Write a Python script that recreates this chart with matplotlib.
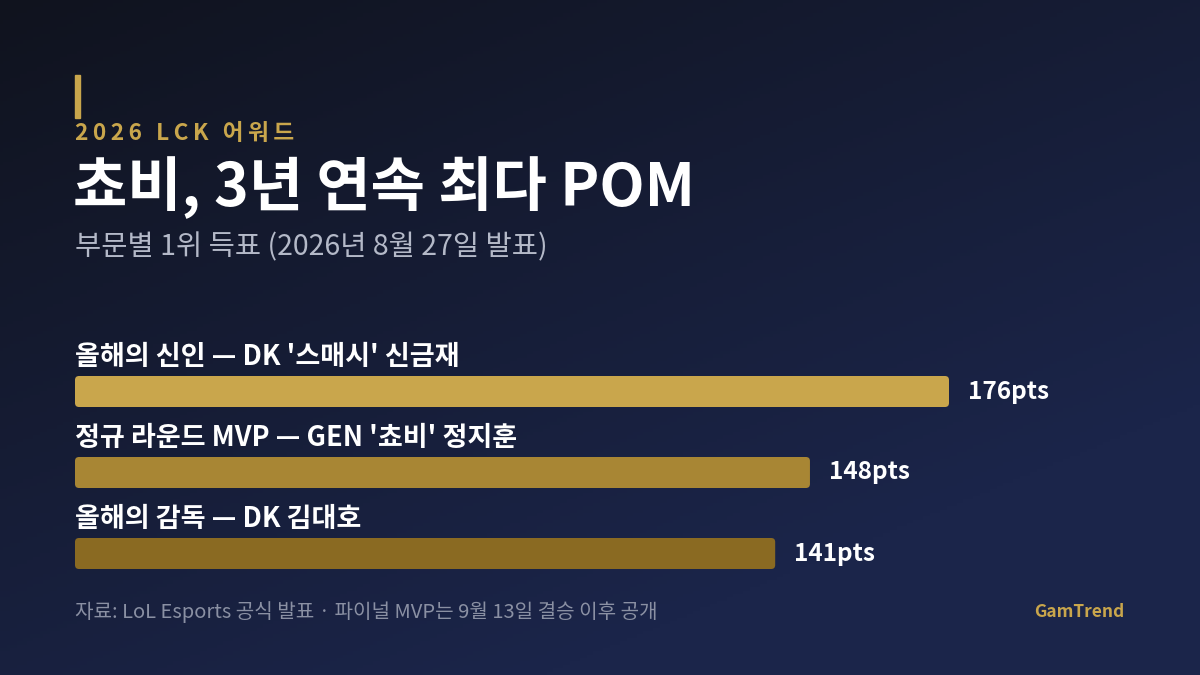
import matplotlib.pyplot as plt
import numpy as np
from matplotlib.patches import FancyBboxPatch, Rectangle

plt.rcParams['font.family'] = ['Noto Sans CJK KR', 'DejaVu Sans']

# data
categories = ["올해의 신인 — DK '스매시' 신금재",
              "정규 라운드 MVP — GEN '쵸비' 정지훈",
              "올해의 감독 — DK 김대호"]
points = [176, 148, 141]
bar_colors = ['#c9a64c', '#a88634', '#8a6a22']

kicker = '2026 LCK 어워드'
title = '쵸비, 3년 연속 최다 POM'
subtitle = '부문별 1위 득표 (2026년 8월 27일 발표)'
footer = '자료: LoL Esports 공식 발표 · 파이널 MVP는 9월 13일 결승 이후 공개'
brand = 'GamTrend'

W, H = 1200, 675
fig = plt.figure(figsize=(W / 100, H / 100), dpi=100)

# background gradient
bg = fig.add_axes([0, 0, 1, 1])
bg.set_axis_off()
yy, xx = np.mgrid[0:1:200j, 0:1:360j]
t = np.clip(0.55 * xx + 0.75 * yy, 0, 1)[..., None]
c0 = np.array([16, 19, 30]) / 255
c1 = np.array([27, 37, 74]) / 255
img = c0 * (1 - t) + c1 * t
bg.imshow(img, extent=[0, W, H, 0], aspect='auto')
bg.set_xlim(0, W)
bg.set_ylim(H, 0)

gold = '#c9a64c'
spaced = '\u2009'.join(kicker)
bg.add_patch(Rectangle((75, 75), 5, 43, color=gold))
bg.text(75, 134, spaced, color=gold, fontsize=16.3, fontweight='bold',
        va='center', ha='left')
bg.text(73, 188, title, color='white', fontsize=42.5, fontweight='bold',
        va='center', ha='left')
bg.text(75, 247, subtitle, color='#b4b9c8', fontsize=20.5,
        va='center', ha='left')
bg.text(75, 612, footer, color='#8a90a3', fontsize=14.5,
        va='center', ha='left')
bg.text(1124, 612, brand, color=gold, fontsize=12.5, fontweight='bold',
        va='center', ha='right')

# bars
x0, x1 = 75, 949
top, bottom = 351, 594
ax = fig.add_axes([x0 / W, 1 - bottom / H, (x1 - x0) / W, (bottom - top) / H])
ax.set_xlim(0, max(points))
ax.set_ylim(len(points) - 0.5, -0.5)
ax.set_axis_off()

bh = 31 / 81
px_per_x = (x1 - x0) / max(points)
px_per_y = 81
for i, (cat, v, c) in enumerate(zip(categories, points, bar_colors)):
    p = FancyBboxPatch((0, i - bh / 2), v, bh,
                       boxstyle='round,pad=0,rounding_size=%f' % (4 / px_per_x),
                       mutation_aspect=px_per_x / px_per_y,
                       facecolor=c, edgecolor='none')
    ax.add_patch(p)
    ax.text(0, i - 0.43, cat, color='white', fontsize=19.5, fontweight='bold',
            va='center', ha='left', clip_on=False)
    ax.text(v + 19 / px_per_x, i, f'{v}pts', color='white', fontsize=17.5,
            fontweight='bold', va='center', ha='left', clip_on=False)

fig.savefig('out.png', dpi=100)
